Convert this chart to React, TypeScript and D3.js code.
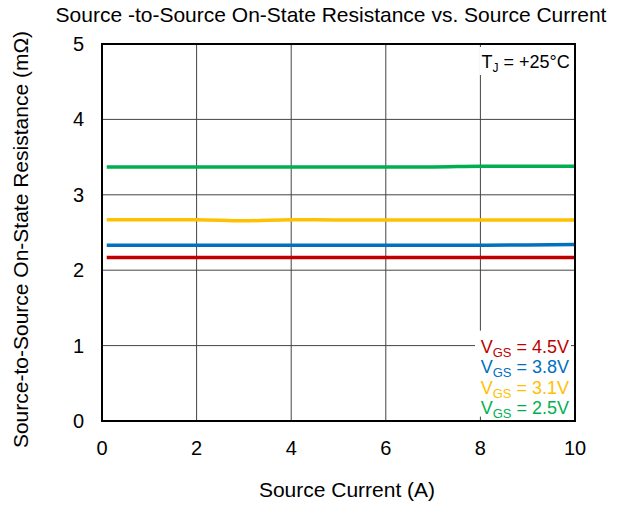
import * as d3 from "d3";

const xTicks = [0, 2, 4, 6, 8, 10];
const yTicks = [0, 1, 2, 3, 4, 5];

const current = [0.1, 1, 2, 3, 4, 5, 6, 7, 8, 9, 10];
const rds25 = [3.37, 3.37, 3.37, 3.37, 3.37, 3.37, 3.37, 3.37, 3.38, 3.38, 3.38];
const rds31 = [2.67, 2.67, 2.67, 2.655, 2.67, 2.665, 2.665, 2.665, 2.665, 2.665, 2.665];
const rds38 = [2.33, 2.33, 2.33, 2.33, 2.33, 2.33, 2.33, 2.33, 2.33, 2.335, 2.34];
const rds45 = [2.17, 2.17, 2.17, 2.17, 2.17, 2.17, 2.17, 2.17, 2.17, 2.17, 2.17];

const seriesNames = ["4.5V", "3.8V", "3.1V", "2.5V"];
const seriesColors = ["#c00000", "#0070c0", "#ffc000", "#00b050"];
const seriesValues = [rds45, rds38, rds31, rds25];

export default function App() {
  const width = 626;
  const height = 507;
  const margin = { top: 44, right: 51, bottom: 86, left: 102 };
  const font = "Liberation Sans, Arial, sans-serif";

  const x = d3.scaleLinear().domain([0, 10]).range([margin.left, width - margin.right]);
  const y = d3.scaleLinear().domain([0, 5]).range([height - margin.bottom, margin.top]);

  const line = d3.line<number>()
    .x((_, i) => x(current[i]))
    .y((d) => y(d))
    .curve(d3.curveMonotoneX);

  const legendX = x(10) - 6;

  return (
    <svg width={width} height={height} style={{ position: "absolute", left: 0, top: 0, background: "#fff" }}>
      <text x={331} y={22} textAnchor="middle" fontFamily={font} fontSize={21}>
        Source -to-Source On-State Resistance vs. Source Current
      </text>

      {/* grid */}
      {xTicks.slice(1, -1).map((t) => (
        <line key={"gx" + t} x1={x(t)} x2={x(t)} y1={y(5)} y2={y(0)} stroke="#444" strokeWidth={1} />
      ))}
      {yTicks.slice(1, -1).map((t) => (
        <line key={"gy" + t} x1={x(0)} x2={x(10)} y1={y(t)} y2={y(t)} stroke="#444" strokeWidth={1} />
      ))}

      {/* series */}
      {seriesValues.map((vals, i) => (
        <path key={seriesNames[i]} d={line(vals) ?? ""} fill="none" stroke={seriesColors[i]} strokeWidth={3.5} />
      ))}

      {/* TJ label */}
      <rect x={x(8) - 1} y={y(5) + 3} width={92} height={28} fill="#fff" />
      <text x={x(8) + 1} y={y(5) + 24} fontFamily={font} fontSize={18}>
        T<tspan fontSize={12} dy={4}>J</tspan><tspan dy={-4}> = +25°C</tspan>
      </text>

      {/* legend */}
      <rect x={legendX - 94} y={y(1) - 15} width={96} height={86} fill="#fff" />
      {seriesNames.map((name, i) => (
        <text key={"lg" + name} x={legendX} y={y(1) + 7 + i * 20.5} textAnchor="end" fontFamily={font} fontSize={18} fill={seriesColors[i]}>
          V<tspan fontSize={13} dy={4}>GS</tspan><tspan dy={-4}> = {name}</tspan>
        </text>
      ))}

      {/* frame */}
      <rect x={x(0)} y={y(5)} width={x(10) - x(0)} height={y(0) - y(5)} fill="none" stroke="#000" strokeWidth={2} />

      {/* tick labels */}
      {yTicks.map((t) => (
        <text key={"ty" + t} x={x(0) - 18} y={y(t) + 7} textAnchor="end" fontFamily={font} fontSize={20}>
          {t}
        </text>
      ))}
      {xTicks.map((t) => (
        <text key={"tx" + t} x={x(t)} y={y(0) + 34} textAnchor="middle" fontFamily={font} fontSize={20}>
          {t}
        </text>
      ))}

      <text x={347} y={497} textAnchor="middle" fontFamily={font} fontSize={21}>
        Source Current (A)
      </text>
      <text transform={`translate(28,${(y(0) + y(5)) / 2 + 7}) rotate(-90)`} textAnchor="middle" fontFamily={font} fontSize={21}>
        Source-to-Source On-State Resistance (mΩ)
      </text>
    </svg>
  );
}
